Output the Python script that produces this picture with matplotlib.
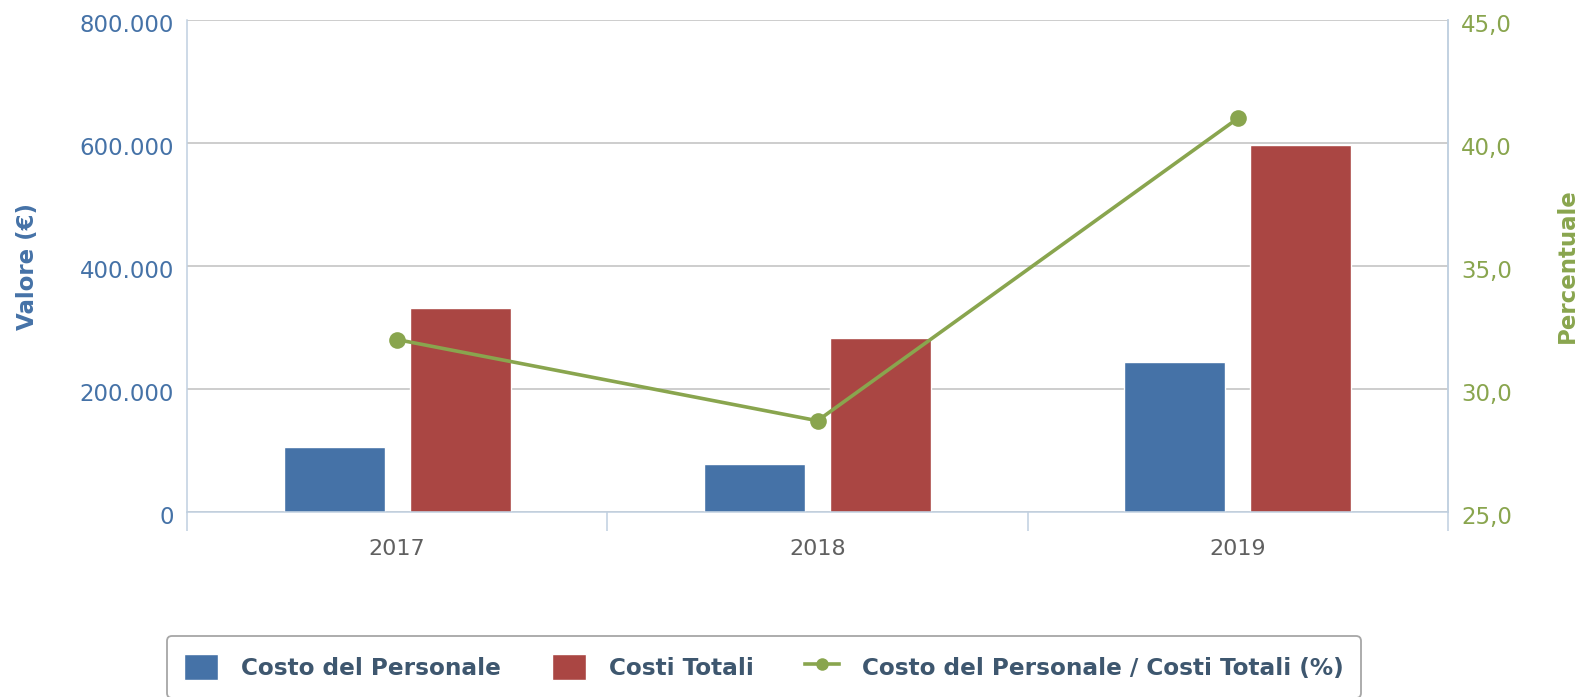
import numpy as np
import matplotlib
matplotlib.use("Agg")
import matplotlib.pyplot as plt
from matplotlib.ticker import FuncFormatter, FixedLocator
from matplotlib.transforms import ScaledTranslation

# data
years = ["2017", "2018", "2019"]
costo_personale = [105000, 77000, 244000]
costi_totali = [331000, 282000, 597000]
percentuale = [32.0, 28.7, 41.0]

blue = "#4572A7"
red = "#AA4643"
green = "#89A54E"
axis_col = "#C0D0E0"
grid_col = "#C0C0C0"

plt.rcParams["font.family"] = ["DejaVu Sans"]

fig = plt.figure(figsize=(15.81, 6.97), dpi=100)
top_px, bot_px = 20, 511.7
ax = fig.add_axes([187 / 1581, 1 - bot_px / 697, (1448 - 187) / 1581, (bot_px - top_px) / 697])

x = np.arange(len(years))
w = 0.24
b1 = ax.bar(x - 0.15, costo_personale, w, color=blue, edgecolor="white", linewidth=1, zorder=2,
            label="Costo del Personale")
b2 = ax.bar(x + 0.15, costi_totali, w, color=red, edgecolor="white", linewidth=1, zorder=2,
            label="Costi Totali")

ax.set_xlim(-0.5, 2.5)
ax.set_ylim(0, 800000)
ax.set_yticks([0, 200000, 400000, 600000, 800000])
ax.yaxis.set_major_formatter(FuncFormatter(lambda v, p: "0" if v == 0 else f"{int(v):,}".replace(",", ".")))
ax.grid(axis="y", color=grid_col, linewidth=1.1, zorder=0)
ax.set_axisbelow(True)
ax.tick_params(axis="y", length=0, pad=9.5, labelsize=16.5, labelcolor=blue)

# category boundaries as major ticks, labels at centres as minor ticks
ax.xaxis.set_major_locator(FixedLocator([-0.5, 0.5, 1.5, 2.5]))
ax.xaxis.set_major_formatter(FuncFormatter(lambda v, p: ""))
ax.xaxis.set_minor_locator(FixedLocator(x))
ax.set_xticklabels(years, minor=True)
ax.tick_params(axis="x", which="major", length=14, width=1.1, color=axis_col, direction="out")
ax.tick_params(axis="x", which="minor", length=0, pad=19.5, labelsize=16, labelcolor="#606060")

ax.spines["top"].set_visible(False)
for s in ["left", "right", "bottom"]:
    ax.spines[s].set_color(axis_col)
    ax.spines[s].set_linewidth(1.1)

ax2 = ax.twinx()
ln, = ax2.plot(x, percentuale, color=green, linewidth=2.6, marker="o", markersize=12,
               markeredgewidth=0, zorder=3, label="Costo del Personale / Costi Totali (%)")
ax2.set_ylim(25, 45)
ax2.set_yticks([25, 30, 35, 40, 45])
ax2.yaxis.set_major_formatter(FuncFormatter(lambda v, p: f"{v:.1f}".replace(".", ",")))
ax2.tick_params(axis="y", length=0, pad=9.5, labelsize=16.5, labelcolor=green)
for s in ["top", "left", "bottom"]:
    ax2.spines[s].set_visible(False)
ax2.spines["right"].set_color(axis_col)
ax2.spines["right"].set_linewidth(1.1)

# small downward shift of the y labels
off = ScaledTranslation(0, -0.03, fig.dpi_scale_trans)
for lab in ax.get_yticklabels() + ax2.get_yticklabels():
    lab.set_transform(lab.get_transform() + off)

fig.text(27.5 / 1581, 1 - 266 / 697, "Valore (€)", rotation=90, ha="center", va="center",
         fontsize=16.5, fontweight="bold", color=blue)
fig.text(1567 / 1581, 1 - 266 / 697, "Percentuale", rotation=90, ha="center", va="center",
         fontsize=16.5, fontweight="bold", color=green)

leg = fig.legend(handles=[b1, b2, ln], loc="center", bbox_to_anchor=(764 / 1581, 1 - 667 / 697),
                 ncol=3, prop={"weight": "bold", "size": 16.7}, frameon=True, fancybox=True,
                 edgecolor="#909090", handlelength=1.45, handleheight=1.4, handletextpad=1.0,
                 columnspacing=2.2, borderpad=0.75)
leg.get_frame().set_linewidth(1.3)
for t in leg.get_texts():
    t.set_color("#3E576F")
leg.legend_handles[2].set_markersize(9)

fig.savefig("out.png", dpi=100)
